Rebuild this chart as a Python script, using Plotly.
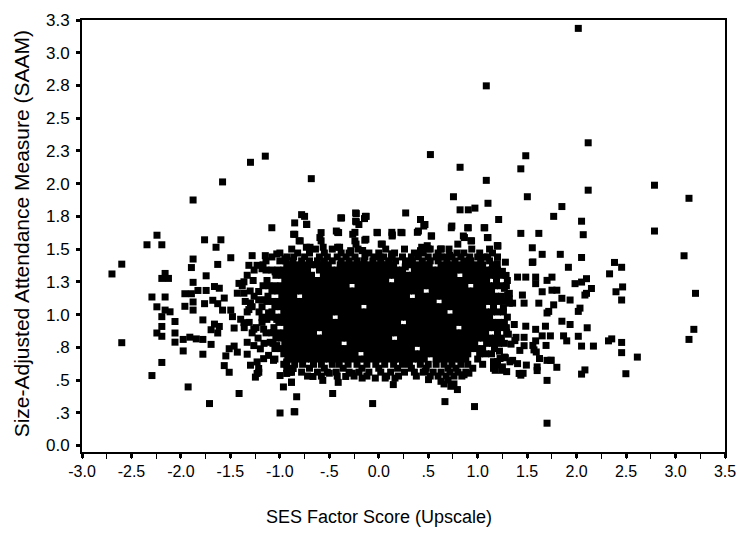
import plotly.graph_objects as go

# ---- individually read points (outliers and fringe of the cloud) ----
ses_fringe = [
    -2.697, -2.598, -2.598, -2.242, -2.343, -2.193, -1.877, -1.579, -1.297, -1.147,
    -0.682, -1.081, -0.780, -0.750, -0.850, -0.730, -0.583, -0.849,
    -1.761, -1.596, -1.645, -1.496, -1.877, -1.894, -1.628, -1.745, -2.160, -2.193,
    -2.126, -1.877, -1.960, -1.894, -1.828, -1.745, -1.661, -1.612, -1.562, -2.293,
    -2.160, -1.877, -1.761, -1.678, -1.628, -1.579, -1.960, -2.243, -1.877, -2.160,
    -2.110, -2.193, -2.060, -1.778, -1.496, -1.479, -1.396, -1.661, -1.612, -1.695,
    -1.628, -1.462, -2.193, -2.243, -2.193, -2.060, -1.977, -1.910, -1.845, -1.778,
    -2.060, -1.695, -1.977, -1.778, -1.546, -1.512, -1.462, -1.562, -1.512, -2.193,
    -2.293, -1.927, -1.412, -1.711, -0.998, -0.855, -0.964, -0.882, -0.998, -0.882,
    -0.931, -1.330, -1.247, -1.213,
    -1.313, -1.230, -1.180, -1.147, -1.031, -0.948, -1.048, -1.280, -1.413, -1.363,
    -1.430, -1.363, -1.297, -1.313, -1.214, -1.214, -1.147, -1.114, -1.131, -1.180,
    -1.031, -1.031, -0.965, -1.363, -1.263, -1.164, -1.064, -0.965, -1.330, -1.263,
    -1.197, -1.097, -1.031, -0.931, -1.297, -1.230, -1.164, -1.114, -1.064, -1.214,
    -1.230, -0.931, -0.865, -0.931, -1.430,
    # upper fringe centre
    1.087, 0.522, 0.822, 1.486, 1.436, 1.087, 0.755, 1.502, 1.104, 0.822,
    0.905, 0.972, 1.212, 1.851, 1.768, -0.384, -0.234, -0.135, -0.201, -0.234,
    0.272, 0.422, 0.455, 0.739, 0.905, 1.071, -0.416, -0.241, -0.018, 0.132,
    0.224, 0.390, 1.436, 1.618,
    -0.728, -0.861, -0.794, -0.695, -0.595, -0.562, -0.396, -0.263, -0.230, -0.163,
    -0.130, -0.014, 0.036, 0.135, 0.235, 0.401, 0.467, 0.534, 0.434, 0.501,
    0.633, 0.733, 0.899, 1.065, 0.866, 0.932, 1.098, 1.198, 0.799, 0.633,
    0.716, 0.916, 1.065, 1.198, -0.429, 0.135, 0.268,
    -0.376, -0.227, -0.127, -0.227, -0.144, 0.855, 0.938, 1.104, 1.203,
    -0.583, -0.406, -0.241, -0.141, 0.137, 0.530, 0.623, 0.490, 0.422,
    -0.805, -0.732, -0.699, -0.416, -0.284, -0.167, 0.025, 0.131, 0.015,
    # lower fringe centre
    -0.830, -0.849, -0.466, -0.062, 0.669, 0.968, -0.882, -0.410, 0.147, 0.629,
    0.729, 0.795, 0.862, 0.911, 0.503, 0.470, -0.566, -0.500, -0.665, -0.168,
    -0.035, 0.065, 0.164, -0.267, -0.334, 1.193, 1.160, 0.660, 0.700, 0.760,
    # right-hand side
    2.017, 2.117, 2.117, 2.787, 3.136, 2.050, 2.067, 2.787, 3.086, 3.202,
    3.185, 3.136, 2.614, 2.498, 2.455, 2.455, 2.322, 2.355, 2.170, 2.050,
    2.017, 2.107, 1.934, 1.851, 2.050, 2.084, 1.701, 1.701, 1.701, 1.741,
    1.800, 1.601, 1.601, 1.419, 1.436, 1.353, 1.403, 1.270, 1.243, 1.177,
    1.177, 1.569, 1.586, 1.586, 1.486, 1.469, 1.469, 1.370, 1.387, 1.337,
    1.652, 1.735, 1.685, 1.868, 1.900,
    1.203, 1.552, 1.652, 1.835, 2.050, 1.552, 1.917, 2.383, 2.455, 2.333,
    1.403, 1.486, 1.586, 1.586, 1.701, 1.751, 1.287, 1.984, 2.050, 2.100,
    2.465, 2.398, 2.455, 2.150, 2.100, 2.084, 1.652, 1.751, 1.800, 1.851,
    1.934, 1.452, 1.469, 1.618, 1.768, 1.718, 1.701, 2.034, 2.017, 1.320,
    1.353, 1.303, 1.320, 1.558, 1.293, 1.376, 1.558, 1.691, 1.426, 1.592,
    1.625, 1.741, 1.226, 1.326, 1.492, 1.293, 1.459, 1.160,
    1.280, 1.250, 1.300, 1.270, 1.320, 1.260, 1.300, 1.250, 1.310, 1.270,
    1.220, 1.280, 1.200, 1.250,
]
saam_fringe = [
    1.310, 1.385, 0.785, 1.606, 1.533, 1.533, 1.875, 2.013, 2.163, 2.210,
    2.038, 1.663, 1.763, 1.750, 1.700, 1.690, 1.626, 1.613,
    1.571, 1.571, 1.514, 1.434, 1.424, 1.359, 1.383, 1.296, 1.314, 1.276,
    1.276, 1.246, 1.159, 1.159, 1.184, 1.184, 1.214, 1.201, 1.126, 1.134,
    1.134, 1.096, 1.083, 1.109, 1.083, 1.034, 1.063, 1.059, 1.034, 1.034,
    1.021, 0.984, 0.947, 0.959, 1.034, 0.984, 0.964, 0.927, 0.909, 0.884,
    0.859, 0.897, 0.909, 0.859, 0.834, 0.859, 0.810, 0.827, 0.814, 0.810,
    0.789, 0.772, 0.722, 0.697, 0.684, 0.739, 0.759, 0.610, 0.559, 0.634,
    0.534, 0.447, 0.397, 0.320, 0.248, 0.258, 0.447, 0.484, 0.534, 0.559,
    0.622, 0.697, 0.522, 0.559,
    1.376, 1.376, 1.350, 1.450, 1.463, 1.426, 1.326, 1.450, 1.238, 1.250,
    1.163, 1.163, 1.088, 1.038, 1.176, 1.113, 1.113, 1.013, 0.963, 0.976,
    1.076, 0.963, 1.063, 0.938, 0.888, 0.888, 0.863, 0.838, 0.788, 0.763,
    0.738, 0.788, 0.763, 0.738, 0.613, 0.638, 0.663, 0.688, 0.650, 0.588,
    0.550, 0.638, 0.588, 0.550, 0.713,
    2.747, 2.222, 2.125, 2.213, 2.113, 2.025, 1.900, 1.900, 1.850, 1.800,
    1.800, 1.813, 1.726, 1.825, 1.750, 1.738, 1.776, 1.750, 1.688, 1.713,
    1.776, 1.726, 1.676, 1.676, 1.663, 1.663, 1.628, 1.628, 1.628, 1.628,
    1.628, 1.628, 1.620, 1.620,
    1.688, 1.613, 1.563, 1.514, 1.588, 1.514, 1.514, 1.613, 1.538, 1.489,
    1.575, 1.625, 1.538, 1.600, 1.625, 1.638, 1.688, 1.600, 1.514, 1.501,
    1.501, 1.663, 1.663, 1.663, 1.588, 1.563, 1.588, 1.526, 1.538, 1.439,
    1.451, 1.414, 1.439, 1.389, 1.638, 1.439, 1.364,
    1.738, 1.771, 1.750, 1.708, 1.733, 1.600, 1.563, 1.588, 1.526,
    1.563, 1.626, 1.563, 1.568, 1.608, 1.600, 1.500, 1.526, 1.488,
    1.563, 1.514, 1.501, 1.514, 1.488, 1.488, 1.538, 1.464, 1.439,
    0.372, 0.257, 0.397, 0.320, 0.335, 0.297, 0.482, 0.482, 0.465, 0.490,
    0.452, 0.427, 0.540, 0.552, 0.503, 0.565, 0.497, 0.552, 0.527, 0.515,
    0.515, 0.515, 0.515, 0.552, 0.527, 0.615, 0.640, 0.470, 0.500, 0.470,
    3.186, 2.312, 1.950, 1.988, 1.888, 1.713, 1.610, 1.638, 1.449, 1.162,
    0.887, 0.810, 0.675, 0.548, 0.787, 0.709, 0.799, 0.814, 0.759, 0.759,
    0.834, 0.899, 0.924, 0.949, 0.545, 0.577, 0.170, 0.497, 0.650, 0.650,
    0.597, 0.600, 0.572, 0.550, 0.537, 0.650, 0.625, 0.675, 0.574, 0.574,
    0.624, 0.730, 0.799, 0.887, 0.911, 0.826, 0.762, 0.924, 0.826, 0.774,
    0.837, 0.837, 0.911, 0.837, 0.799,
    1.523, 1.510, 1.460, 1.460, 1.436, 1.398, 1.361, 1.398, 1.361, 1.311,
    1.286, 1.286, 1.286, 1.236, 1.261, 1.286, 1.299, 1.236, 1.248, 1.274,
    1.211, 1.174, 1.111, 1.199, 1.162, 1.149, 1.174, 1.186, 1.186, 1.124,
    1.111, 1.149, 1.087, 1.087, 1.074, 1.024, 1.012, 1.049, 1.024, 1.087,
    1.087, 1.149, 1.162, 1.402, 0.864, 0.801, 0.764, 0.764, 0.726, 0.714,
    0.664, 0.651, 0.664, 0.639, 0.614, 0.564, 0.551, 0.589,
    1.400, 1.330, 1.260, 1.200, 1.120, 1.050, 0.980, 0.920, 0.850, 0.780,
    0.720, 0.670, 0.640, 0.600,
]

# ---- dense central cloud, read row by row (SAAM level -> SES values) ----
cloud_saam = [1.50, 1.47, 1.44, 1.41, 1.38, 1.34, 1.30, 1.26, 1.22, 1.18,
              1.14, 1.10, 1.06, 1.02, 0.98, 0.94, 0.90, 0.86, 0.82, 0.78,
              0.74, 0.70, 0.66, 0.62, 0.59, 0.56, 0.53]
cloud_ses = [
    # 1.50
    [-0.88, -0.64, -0.47, -0.21, 0.07, 0.26, 0.52, 0.71, 0.94, 1.12],
    # 1.47
    [-1.00, -0.82, -0.70, -0.55, -0.38, -0.30, -0.10, 0.00, 0.16, 0.36, 0.45, 0.60, 0.79, 0.86, 1.02, 1.15],
    # 1.44
    [-1.08, -0.93, -0.86, -0.75, -0.60, -0.52, -0.42, -0.33, -0.24, -0.14, -0.05, 0.05, 0.13, 0.24, 0.33, 0.40,
     0.50, 0.58, 0.66, 0.74, 0.83, 0.92, 1.00, 1.10, 1.20],
    # 1.41
    [-1.14, -1.00, -0.94, -0.87, -0.78, -0.70, -0.62, -0.55, -0.47, -0.38, -0.30, -0.22, -0.15, -0.06, 0.02, 0.10,
     0.17, 0.27, 0.34, 0.44, 0.52, 0.60, 0.69, 0.77, 0.86, 0.93, 1.03, 1.12],
    # 1.38
    [-1.17, -0.93, -0.87, -0.81, -0.75, -0.69, -0.63, -0.57, -0.51, -0.39, -0.33, -0.27, -0.21, -0.15, -0.09,
     -0.03, 0.03, 0.09, 0.15, 0.27, 0.33, 0.39, 0.45, 0.51, 0.63, 0.69, 0.75, 0.81, 0.87, 0.93, 0.99, 1.05, 1.15],
    # 1.34
    [-1.26, -1.14, -1.08, -1.02, -0.96, -0.90, -0.84, -0.78, -0.72, -0.60, -0.54, -0.48, -0.42, -0.36, -0.30,
     -0.24, -0.18, -0.12, -0.06, 0.00, 0.06, 0.12, 0.18, 0.24, 0.36, 0.42, 0.48, 0.54, 0.60, 0.66, 0.72, 0.78,
     0.84, 0.90, 0.96, 1.02, 1.08, 1.14, 1.20],
    # 1.30
    [-1.33, -1.04, -0.98, -0.92, -0.86, -0.80, -0.74, -0.68, -0.56, -0.50, -0.44, -0.38, -0.32, -0.26, -0.20,
     -0.14, -0.08, -0.02, 0.04, 0.10, 0.16, 0.22, 0.28, 0.34, 0.40, 0.46, 0.52, 0.58, 0.64, 0.70, 0.76, 0.88,
     0.94, 1.00, 1.06, 1.12, 1.18, 1.24],
    # 1.26
    [-1.27, -1.13, -0.95, -0.89, -0.83, -0.77, -0.71, -0.65, -0.59, -0.53, -0.47, -0.41, -0.35, -0.29, -0.23,
     -0.17, -0.11, -0.05, 0.01, 0.07, 0.19, 0.25, 0.31, 0.37, 0.43, 0.49, 0.55, 0.61, 0.67, 0.73, 0.79, 0.85,
     0.91, 0.97, 1.03, 1.09, 1.19],
    # 1.22
    [-1.38, -1.17, -1.11, -1.05, -0.99, -0.93, -0.87, -0.81, -0.75, -0.69, -0.63, -0.57, -0.51, -0.45, -0.39,
     -0.33, -0.21, -0.15, -0.09, -0.03, 0.03, 0.09, 0.15, 0.21, 0.27, 0.33, 0.39, 0.45, 0.51, 0.57, 0.63, 0.69,
     0.75, 0.81, 0.87, 0.99, 1.05, 1.11, 1.17, 1.23, 1.29],
    # 1.18
    [-1.30, -1.08, -1.02, -0.96, -0.90, -0.84, -0.78, -0.72, -0.66, -0.60, -0.54, -0.48, -0.42, -0.36, -0.30,
     -0.24, -0.18, -0.12, -0.06, 0.00, 0.06, 0.12, 0.18, 0.24, 0.30, 0.36, 0.42, 0.54, 0.60, 0.66, 0.72, 0.78,
     0.84, 0.90, 0.96, 1.02, 1.08, 1.14],
    # 1.14
    [-1.26, -1.12, -0.98, -0.92, -0.86, -0.74, -0.68, -0.62, -0.56, -0.50, -0.44, -0.38, -0.32, -0.26, -0.20,
     -0.14, -0.08, -0.02, 0.04, 0.10, 0.16, 0.22, 0.28, 0.40, 0.46, 0.52, 0.58, 0.64, 0.70, 0.76, 0.82, 0.88,
     0.94, 1.00, 1.06, 1.12, 1.18, 1.24],
    # 1.10
    [-1.35, -1.13, -1.07, -1.01, -0.95, -0.89, -0.83, -0.77, -0.71, -0.65, -0.59, -0.53, -0.47, -0.41, -0.35,
     -0.29, -0.23, -0.17, -0.11, -0.05, 0.01, 0.07, 0.13, 0.19, 0.25, 0.31, 0.37, 0.43, 0.49, 0.55, 0.67, 0.73,
     0.79, 0.85, 0.91, 0.97, 1.03, 1.09, 1.15, 1.21, 1.27],
    # 1.06
    [-1.28, -1.18, -1.05, -0.99, -0.93, -0.87, -0.81, -0.75, -0.69, -0.63, -0.57, -0.51, -0.45, -0.39, -0.33,
     -0.27, -0.21, -0.09, -0.03, 0.03, 0.09, 0.15, 0.21, 0.27, 0.33, 0.39, 0.45, 0.51, 0.57, 0.63, 0.69, 0.75,
     0.81, 0.87, 0.93, 0.99, 1.05, 1.16],
    # 1.02
    [-1.33, -1.21, -1.08, -0.96, -0.90, -0.84, -0.78, -0.72, -0.66, -0.60, -0.54, -0.48, -0.42, -0.36, -0.30,
     -0.24, -0.18, -0.12, -0.06, 0.00, 0.06, 0.12, 0.18, 0.24, 0.30, 0.36, 0.42, 0.48, 0.54, 0.60, 0.66, 0.78,
     0.84, 0.90, 0.96, 1.02, 1.08, 1.14, 1.20, 1.26],
    # 0.98
    [-1.16, -1.10, -1.04, -0.98, -0.92, -0.86, -0.80, -0.74, -0.68, -0.62, -0.56, -0.50, -0.38, -0.32, -0.26,
     -0.20, -0.14, -0.08, -0.02, 0.04, 0.10, 0.16, 0.22, 0.28, 0.34, 0.40, 0.46, 0.52, 0.58, 0.64, 0.70, 0.76,
     0.82, 0.88, 0.94, 1.00, 1.06, 1.12],
    # 0.94
    [-1.31, -1.18, -1.01, -0.95, -0.89, -0.83, -0.77, -0.71, -0.65, -0.59, -0.53, -0.47, -0.41, -0.35, -0.29,
     -0.23, -0.17, -0.11, -0.05, 0.01, 0.07, 0.13, 0.19, 0.31, 0.37, 0.43, 0.49, 0.55, 0.61, 0.67, 0.73, 0.79,
     0.85, 0.91, 0.97, 1.03, 1.09, 1.15, 1.21, 1.27],
    # 0.90
    [-1.36, -1.24, -1.06, -0.93, -0.87, -0.81, -0.75, -0.69, -0.63, -0.57, -0.51, -0.45, -0.39, -0.33, -0.27,
     -0.21, -0.15, -0.09, -0.03, 0.03, 0.09, 0.15, 0.21, 0.27, 0.33, 0.39, 0.45, 0.51, 0.57, 0.63, 0.69, 0.75,
     0.87, 0.93, 0.99, 1.05, 1.11, 1.17, 1.23, 1.29],
    # 0.86
    [-1.28, -1.14, -1.08, -1.02, -0.96, -0.90, -0.84, -0.78, -0.72, -0.66, -0.54, -0.48, -0.42, -0.36, -0.30,
     -0.24, -0.18, -0.12, -0.06, 0.00, 0.06, 0.12, 0.18, 0.24, 0.30, 0.36, 0.42, 0.48, 0.54, 0.60, 0.66, 0.72,
     0.78, 0.84, 0.90, 0.96, 1.02, 1.08, 1.20],
    # 0.82
    [-1.22, -1.04, -0.98, -0.92, -0.86, -0.80, -0.74, -0.68, -0.62, -0.56, -0.50, -0.44, -0.38, -0.32, -0.26,
     -0.20, -0.14, -0.08, -0.02, 0.04, 0.10, 0.22, 0.28, 0.34, 0.40, 0.46, 0.52, 0.58, 0.64, 0.70, 0.76, 0.82,
     0.88, 0.94, 1.00, 1.06, 1.12, 1.18, 1.24],
    # 0.78
    [-1.16, -1.07, -0.95, -0.89, -0.83, -0.77, -0.71, -0.65, -0.59, -0.53, -0.47, -0.41, -0.29, -0.23, -0.17,
     -0.11, -0.05, 0.01, 0.07, 0.13, 0.19, 0.25, 0.31, 0.37, 0.43, 0.49, 0.55, 0.61, 0.67, 0.73, 0.79, 0.85,
     0.91, 0.97, 1.09, 1.15, 1.21],
    # 0.74
    [-1.05, -0.99, -0.93, -0.87, -0.81, -0.75, -0.69, -0.63, -0.57, -0.51, -0.45, -0.39, -0.33, -0.27, -0.21,
     -0.15, -0.09, -0.03, 0.03, 0.09, 0.15, 0.21, 0.27, 0.33, 0.45, 0.51, 0.57, 0.63, 0.69, 0.75, 0.81, 0.87,
     0.93, 0.99, 1.05, 1.17],
    # 0.70
    [-0.96, -0.90, -0.84, -0.78, -0.72, -0.66, -0.60, -0.54, -0.48, -0.42, -0.36, -0.30, -0.24, -0.12, -0.06,
     0.00, 0.06, 0.12, 0.18, 0.24, 0.30, 0.36, 0.42, 0.48, 0.54, 0.60, 0.66, 0.72, 0.78, 0.84, 0.90, 1.02,
     1.08, 1.14],
    # 0.66
    [-1.05, -0.92, -0.86, -0.80, -0.74, -0.68, -0.62, -0.56, -0.50, -0.44, -0.38, -0.32, -0.26, -0.20, -0.14,
     -0.08, -0.02, 0.04, 0.10, 0.16, 0.22, 0.28, 0.34, 0.40, 0.46, 0.58, 0.64, 0.70, 0.76, 0.82, 0.88, 1.00],
    # 0.62
    [-0.96, -0.85, -0.77, -0.66, -0.58, -0.47, -0.40, -0.31, -0.22, -0.12, -0.03, 0.06, 0.15, 0.24, 0.31, 0.42,
     0.50, 0.58, 0.66, 0.74, 0.83, 0.90, 1.05],
    # 0.59
    [-0.93, -0.70, -0.55, -0.36, -0.17, 0.00, 0.19, 0.33, 0.48, 0.70, 0.78, 0.95],
    # 0.56
    [-0.90, -0.78, -0.62, -0.52, -0.43, -0.30, -0.20, -0.10, 0.02, 0.12, 0.26, 0.36, 0.45, 0.55, 0.63, 0.72,
     0.80, 0.88],
    # 0.53
    [-0.72, -0.58, -0.42, -0.25, -0.12, 0.08, 0.20, 0.38, 0.52, 0.60, 0.68, 0.76, 0.84],
]

# ---- axis tick labels ----
x_tickvals = [-3.0, -2.5, -2.0, -1.5, -1.0, -0.5, 0.0, 0.5, 1.0, 1.5, 2.0, 2.5, 3.0, 3.5]
x_ticktext = ["-3.0", "-2.5", "-2.0", "-1.5", "-1.0", "-.5", "0.0", ".5", "1.0", "1.5", "2.0", "2.5", "3.0", "3.5"]
y_tickvals = [0.0, 0.25, 0.5, 0.75, 1.0, 1.25, 1.5, 1.75, 2.0, 2.25, 2.5, 2.75, 3.0, 3.25]
y_ticktext = ["0.0", ".3", ".5", ".8", "1.0", "1.3", "1.5", "1.8", "2.0", "2.3", "2.5", "2.8", "3.0", "3.3"]

xs = list(ses_fringe)
ys = list(saam_fringe)
for level, row in zip(cloud_saam, cloud_ses):
    xs.extend(row)
    ys.extend([level] * len(row))

font_family = "Liberation Sans, Arial, Helvetica, sans-serif"

fig = go.Figure(go.Scatter(
    x=xs, y=ys, mode="markers",
    marker=dict(symbol="square", size=7, color="black", line=dict(width=0)),
    hoverinfo="x+y", showlegend=False,
))

fig.update_layout(
    width=747, height=535,
    margin=dict(l=82, r=12, t=11, b=83),
    paper_bgcolor="white", plot_bgcolor="white",
    font=dict(family=font_family, color="black", size=16),
    xaxis=dict(
        range=[-3.0, 3.5], tickvals=x_tickvals, ticktext=x_ticktext,
        showgrid=False, zeroline=False, showline=True, linecolor="black", linewidth=2,
        mirror=True, ticks="outside", ticklen=4, tickwidth=3, tickcolor="black",
        minor=dict(dtick=0.25, tick0=0, ticks="outside", ticklen=5, tickwidth=1, tickcolor="black"),
        tickfont=dict(size=16),
    ),
    yaxis=dict(
        range=[-0.05, 3.25], tickvals=y_tickvals, ticktext=y_ticktext,
        showgrid=False, zeroline=False, showline=True, linecolor="black", linewidth=2,
        mirror=True, ticks="outside", ticklen=4, tickwidth=3, tickcolor="black",
        tickfont=dict(size=17), ticklabelstandoff=3,
    ),
    annotations=[
        dict(text="SES Factor Score (Upscale)", xref="paper", yref="paper",
             x=0.4625, y=-0.1497, xanchor="center", yanchor="middle",
             showarrow=False, font=dict(size=18)),
        dict(text="Size-Adjusted Attendance Measure (SAAM)", xref="paper", yref="paper",
             x=-0.095, y=0.506, xanchor="center", yanchor="middle", textangle=-90,
             showarrow=False, font=dict(size=21)),
    ],
)

fig.write_html("out.html")
